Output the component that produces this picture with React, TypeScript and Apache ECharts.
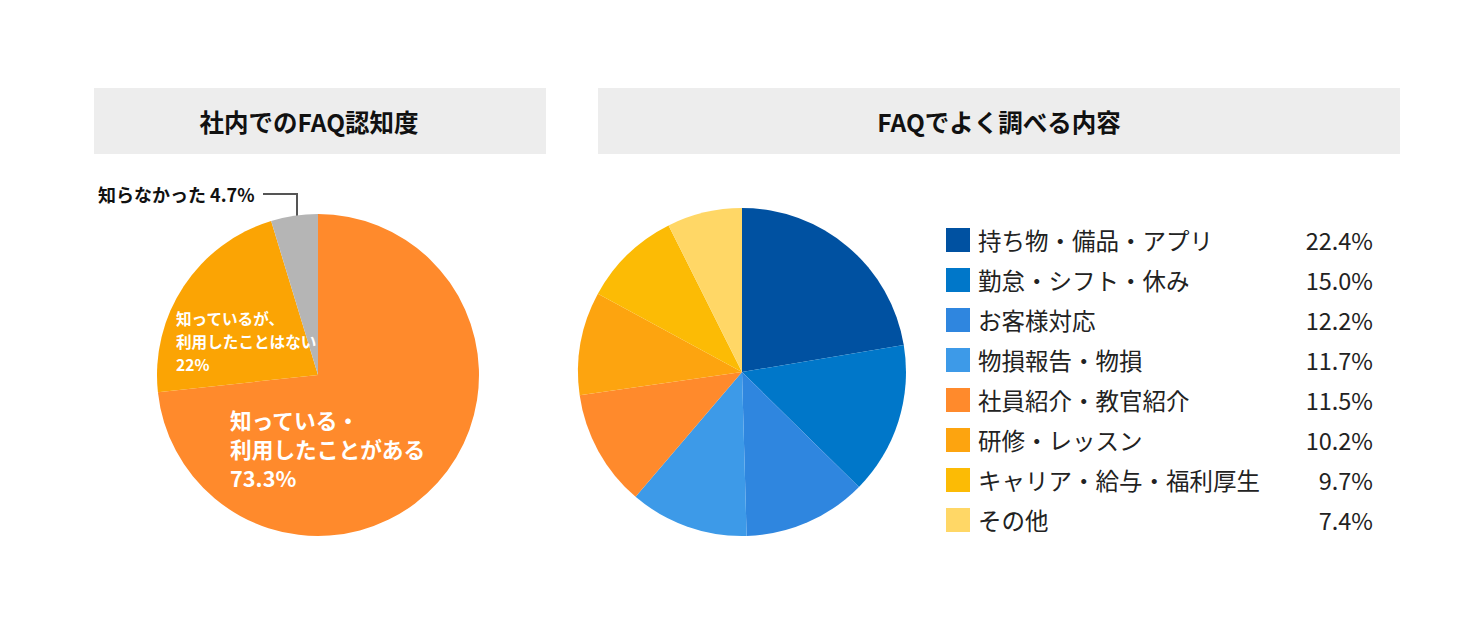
import { useEffect, useRef } from "react";
import * as echarts from "echarts";

const FONT = "'Noto Sans CJK JP', 'Noto Sans', sans-serif";

const awareLabels = ["知っている・\n利用したことがある", "知っているが、\n利用したことはない", "知らなかった"];
const awareValues = [73.3, 22, 4.7];
const awareColors = ["#ff8a2c", "#fba404", "#b5b5b5"];

const topicLabels = [
  "持ち物・備品・アプリ",
  "勤怠・シフト・休み",
  "お客様対応",
  "物損報告・物損",
  "社員紹介・教官紹介",
  "研修・レッスン",
  "キャリア・給与・福利厚生",
  "その他",
];
const topicValues = [22.4, 15.0, 12.2, 11.7, 11.5, 10.2, 9.7, 7.4];
const topicColors = ["#0051a1", "#0077c9", "#2f86df", "#3d9ae8", "#ff8a2c", "#fda40f", "#fcbb05", "#ffd766"];

// where each label of the left pie sits
const awareLabelPos = [
  { x: 230, y: 405, size: 21.7, lh: 29 },
  { x: 176, y: 306, size: 15.6, lh: 23 },
  { x: 98, y: 194, size: 18, lh: 20 },
];

function fmtPct(v: number, digits: number) {
  return v.toFixed(digits) + "%";
}

export default function App() {
  const ref = useRef<HTMLDivElement>(null);

  useEffect(() => {
    document.body.style.margin = "0";
    if (!ref.current) return;
    const chart = echarts.init(ref.current, null, { renderer: "svg" });
    const valueByName: Record<string, number> = {};
    topicLabels.forEach((n, i) => (valueByName[n] = topicValues[i]));

    chart.setOption({
      animation: false,
      backgroundColor: "#ffffff",
      textStyle: { fontFamily: FONT },
      legend: {
        orient: "vertical",
        left: 946,
        top: 228,
        padding: 0,
        itemWidth: 24,
        itemHeight: 24,
        itemGap: 16,
        icon: "rect",
        selectedMode: false,
        data: topicLabels,
        formatter: (name: string) => `{n|${name}}{v|${fmtPct(valueByName[name], 1)}}`,
        textStyle: {
          fontFamily: FONT,
          fontSize: 23.5,
          color: "#222222",
          rich: {
            n: { fontFamily: FONT, fontSize: 23.5, lineHeight: 24, color: "#222222", width: 318, padding: [0, 0, 0, 3] },
            v: { fontFamily: FONT, fontSize: 23.5, lineHeight: 24, color: "#222222", width: 77, align: "right" },
          },
        },
      },
      graphic: [
        { type: "rect", shape: { x: 94, y: 88, width: 452, height: 66 }, style: { fill: "#ededed" } },
        { type: "rect", shape: { x: 598, y: 88, width: 802, height: 66 }, style: { fill: "#ededed" } },
        {
          type: "text", x: 309, y: 121,
          style: { text: "社内でのFAQ認知度", fontFamily: FONT, fontSize: 24.5, fontWeight: "bold", fill: "#111111", align: "center", verticalAlign: "middle" },
        },
        {
          type: "text", x: 999, y: 121,
          style: { text: "FAQでよく調べる内容", fontFamily: FONT, fontSize: 24.5, fontWeight: "bold", fill: "#111111", align: "center", verticalAlign: "middle" },
        },
        {
          type: "polyline",
          shape: { points: [[263, 194], [297, 194], [297, 222]] },
          style: { stroke: "#555555", lineWidth: 2, fill: "none" },
        },
      ],
      series: [
        {
          type: "pie",
          center: [318, 375],
          radius: 161,
          startAngle: 90,
          clockwise: true,
          silent: true,
          labelLine: { show: false },
          label: {
            show: true,
            position: "inside",
            fontFamily: FONT,
            fontWeight: "bold",
            formatter: (p: any) =>
              p.dataIndex === 2 ? `${p.name} ${p.value}%` : `${p.name}\n${p.value}%`,
          },
          labelLayout: (p: any) => {
            const pos = awareLabelPos[p.dataIndex];
            return { x: pos.x, y: pos.y, align: "left", verticalAlign: p.dataIndex === 2 ? "middle" : "top" };
          },
          data: awareLabels.map((name, i) => ({
            name,
            value: awareValues[i],
            itemStyle: { color: awareColors[i] },
            label: {
              color: i === 2 ? "#111111" : "#ffffff",
              fontSize: awareLabelPos[i].size,
              lineHeight: awareLabelPos[i].lh,
            },
          })),
        },
        {
          type: "pie",
          center: [742, 372],
          radius: 164,
          startAngle: 90,
          clockwise: true,
          silent: true,
          label: { show: false },
          labelLine: { show: false },
          data: topicLabels.map((name, i) => ({
            name,
            value: topicValues[i],
            itemStyle: { color: topicColors[i] },
          })),
        },
      ],
    });

    return () => chart.dispose();
  }, []);

  return <div ref={ref} style={{ width: 1480, height: 640 }} />;
}
